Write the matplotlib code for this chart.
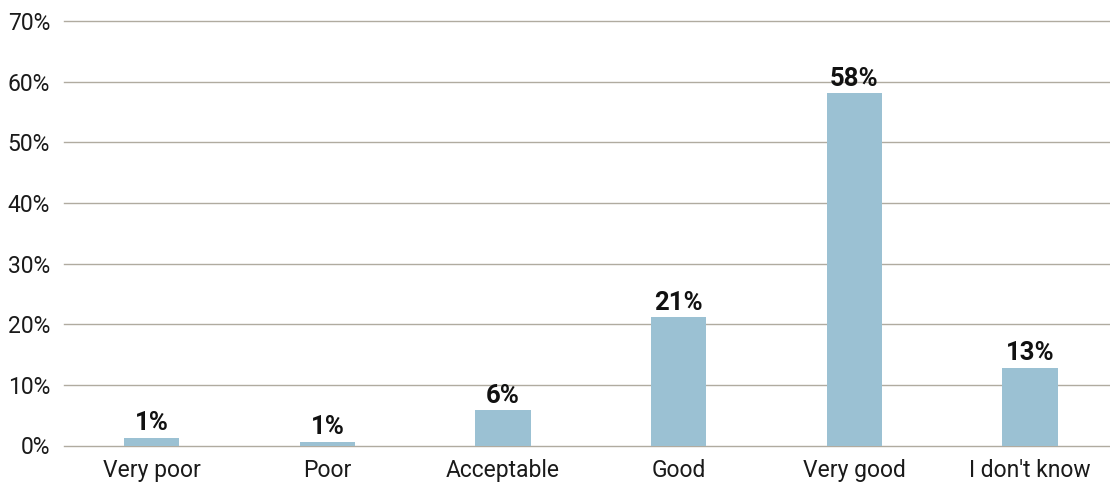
import matplotlib.pyplot as plt
import numpy as np

categories = ['Very poor', 'Poor', 'Acceptable', 'Good', 'Very good', "I don't know"]
shares = [1.3, 0.6, 5.8, 21.2, 58.1, 12.8]
yticks = [0, 10, 20, 30, 40, 50, 60, 70]

plt.rcParams['font.family'] = ['Roboto', 'DejaVu Sans']

fig = plt.figure(figsize=(11.1, 4.83), dpi=100)
ax = fig.add_axes([64 / 1110, 1 - 445.5 / 483, 1 - 64 / 1110, (445.5 - 21) / 483])

x = np.arange(len(categories))
ax.bar(x, shares, width=0.315, color='#9bc1d3', zorder=3)

# value labels above each bar
for xi, v in zip(x, shares):
    ax.text(xi, v + 0.4, f'{v:.0f}%', ha='center', va='bottom',
            fontsize=18.5, fontweight='bold', color='#111111', zorder=4)

ax.set_xlim(-0.5, 5.455)
ax.set_ylim(0, 70)
ax.set_yticks(yticks)
ax.set_yticklabels([f'{t}%' for t in yticks])
ax.set_xticks(x)
ax.set_xticklabels(categories)
ax.tick_params(axis='both', length=0, labelsize=16.5, colors='#1a1a1a')
ax.tick_params(axis='y', pad=10)
ax.tick_params(axis='x', pad=10)

ax.yaxis.grid(True, color='#b0aba0', linewidth=1.0, zorder=0)
for line in ax.get_ygridlines():
    line.set_clip_on(False)
for s in ax.spines.values():
    s.set_visible(False)

fig.savefig('out.png', dpi=100)
